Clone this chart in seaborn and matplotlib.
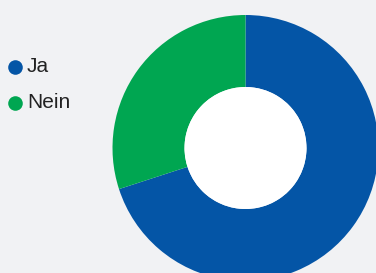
import numpy as np
import matplotlib
matplotlib.use("Agg")
import matplotlib.pyplot as plt
import seaborn as sns
from matplotlib.patches import Circle

# --- DATA ---
labels = ["Ja", "Nein"]
values = [70, 30]
colors = ["#0455a6", "#00a651"]

BG = "#f1f2f4"

sns.set_theme(style="white")
plt.rcParams['font.family'] = ['Liberation Sans', 'DejaVu Sans']

fig = plt.figure(figsize=(3.76, 2.73), dpi=100)
fig.patch.set_facecolor(BG)
ax = fig.add_axes([0, 0, 1, 1])
ax.set_facecolor(BG)

# donut, drawn in pixel-like data coords
ax.pie(values, colors=colors, startangle=90, counterclock=False,
       radius=133, center=(245.5, 125),
       wedgeprops=dict(width=72, linewidth=0), frame=True)
# white hole in the middle
ax.add_patch(Circle((245.5, 125), 61, facecolor="white", edgecolor="none"))
ax.set_xlim(0, 376)
ax.set_ylim(0, 273)
ax.set_aspect("equal")
ax.axis("off")

# legend (drawn by hand to match spacing)
for i, (l, c) in enumerate(zip(labels, colors)):
    y = 273 - 67 - 36 * i
    ax.plot(15, y, 'o', markersize=10.5, markerfacecolor=c, markeredgewidth=0)
    ax.text(27, y, l, va='center', ha='left', fontsize=15, color="#222222")

plt.savefig("out.png", dpi=100, facecolor=BG)
